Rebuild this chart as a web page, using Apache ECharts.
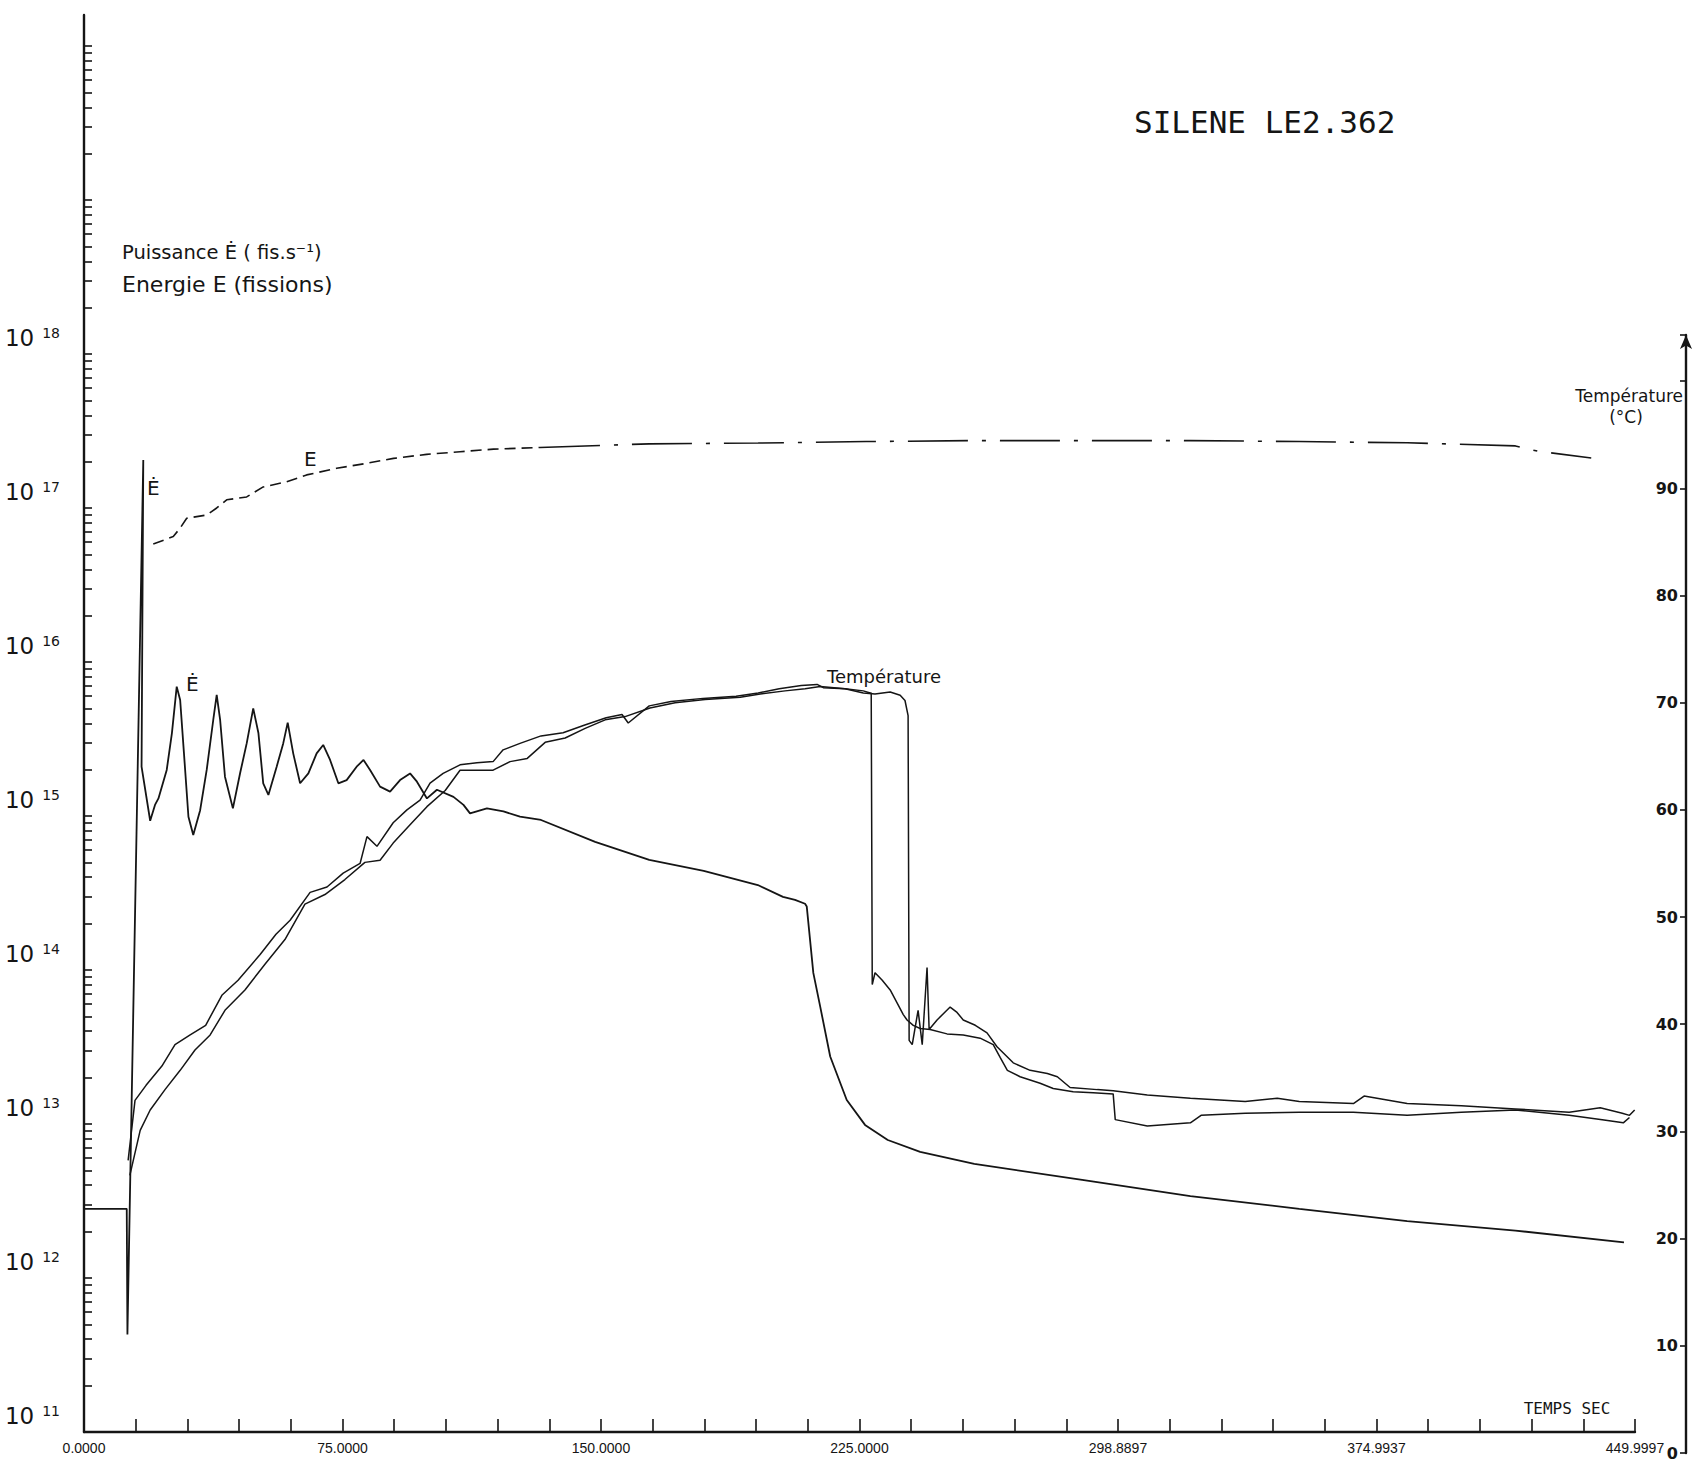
<!DOCTYPE html>
<html><head><meta charset="utf-8">
<script src="https://cdn.jsdelivr.net/npm/echarts@6/dist/echarts.min.js"></script>
<style>html,body{margin:0;padding:0;background:#fff}#c{width:1697px;height:1467px}</style>
</head><body><div id="c"></div>
<script>
// ---- tick labels ----
const timeTickValues = [0, 75, 150, 225, 300, 375, 450];
const timeTickLabels = ['0.0000', '75.0000', '150.0000', '225.0000', '298.8897', '374.9937', '449.9997'];
const decadeExponents = [11, 12, 13, 14, 15, 16, 17, 18];
const tickDecades = [11, 12, 13, 14, 15, 16, 17, 18, 19, 20];
const tempTickValues = [0, 10, 20, 30, 40, 50, 60, 70, 80, 90];

// ---- series values: [time (s), value] ----
const powerEdot = [
  [0, 2.81e12], [12.4, 2.81e12], [12.6, 4.30e11], [17.2, 2.05e17], [16.7, 2.09e15],
  [19.2, 9.31e14], [20.6, 1.18e15], [21.6, 1.30e15], [24.0, 1.99e15], [25.5, 3.44e15],
  [26.9, 6.92e15], [27.9, 5.66e15], [29.0, 2.56e15], [30.3, 9.89e14], [31.7, 7.53e14],
  [33.7, 1.09e15], [35.6, 1.99e15], [37.5, 4.20e15], [38.5, 6.11e15], [39.5, 4.20e15],
  [40.9, 1.80e15], [43.2, 1.12e15], [45.3, 1.90e15], [47.2, 2.96e15], [49.1, 5.00e15],
  [50.6, 3.46e15], [52.0, 1.63e15], [53.5, 1.37e15], [55.9, 2.09e15], [57.8, 2.96e15],
  [59.1, 4.04e15], [60.7, 2.55e15], [62.7, 1.63e15], [65.1, 1.89e15], [67.5, 2.55e15],
  [69.4, 2.89e15], [71.4, 2.31e15], [73.8, 1.63e15], [76.2, 1.71e15], [79.1, 2.09e15],
  [81.1, 2.31e15], [83.0, 1.99e15], [85.9, 1.55e15], [88.8, 1.44e15], [91.7, 1.71e15],
  [94.6, 1.89e15], [96.6, 1.67e15], [99.5, 1.30e15], [102.4, 1.48e15], [107.2, 1.33e15],
  [110.1, 1.18e15], [112.0, 1.04e15], [116.9, 1.12e15], [121.7, 1.07e15], [126.5, 9.89e14],
  [132.6, 9.42e14], [148.3, 6.78e14], [164.0, 5.18e14], [179.8, 4.40e14], [195.5, 3.56e14],
  [202.8, 2.98e14], [206.3, 2.85e14], [209.2, 2.69e14], [209.7, 2.58e14], [211.6, 9.57e13],
  [213.6, 5.78e13], [216.5, 2.74e13], [221.3, 1.43e13], [226.6, 9.86e12], [233.2, 7.87e12],
  [242.6, 6.58e12], [258.3, 5.50e12], [289.6, 4.33e12], [321.0, 3.40e12], [352.6, 2.81e12],
  [383.9, 2.34e12], [415.3, 2.03e12], [446.8, 1.70e12]
];
const energyE = [
  [20.1, 5.84e16], [25.9, 6.52e16], [27.9, 7.41e16], [29.8, 8.57e16], [35.6, 9.01e16],
  [38.5, 1.00e17], [41.4, 1.13e17], [47.2, 1.18e17], [52.0, 1.37e17], [58.8, 1.48e17],
  [64.6, 1.64e17], [73.3, 1.81e17], [82.0, 1.95e17], [89.8, 2.10e17], [99.4, 2.23e17],
  [109.1, 2.32e17], [118.8, 2.41e17], [132.3, 2.47e17], [164.0, 2.61e17], [195.6, 2.64e17],
  [226.9, 2.70e17], [258.3, 2.74e17], [289.6, 2.74e17], [321.0, 2.74e17], [352.6, 2.70e17],
  [383.9, 2.65e17], [415.3, 2.53e17], [421.7, 2.34e17], [437.3, 2.11e17]
];
const temperatureA = [
  [12.8, 27.3], [14.8, 32.9], [18.0, 34.3], [22.6, 36.1], [26.4, 38.1], [30.8, 39.0],
  [35.3, 39.9], [40.0, 42.7], [44.7, 44.1], [51.1, 46.5], [55.7, 48.4], [59.8, 49.7],
  [65.6, 52.3], [70.5, 52.8], [75.2, 54.1], [80.1, 55.0], [82.1, 57.5], [85.0, 56.6],
  [89.7, 58.8], [93.7, 60.0], [97.5, 60.9], [100.4, 62.5], [104.2, 63.4], [109.1, 64.2],
  [114.0, 64.4], [118.7, 64.5], [121.6, 65.6], [126.5, 66.2], [132.6, 66.9], [139.0, 67.2],
  [145.1, 67.9], [151.5, 68.6], [156.1, 68.9], [157.9, 68.1], [164.0, 69.7], [170.3, 70.1],
  [179.6, 70.4], [189.2, 70.6], [195.6, 70.9], [201.7, 71.3], [208.1, 71.6], [212.7, 71.7],
  [214.5, 71.4], [220.8, 71.3], [226.1, 71.1], [228.1, 70.9], [228.4, 70.9], [228.7, 43.7],
  [229.5, 44.8], [231.6, 44.1], [233.9, 43.2], [235.9, 42.0], [237.7, 40.9], [238.8, 40.4],
  [240.6, 39.9], [242.6, 39.6], [245.5, 39.5], [250.4, 39.1], [255.1, 39.0], [260.0, 38.7],
  [263.8, 38.1], [265.8, 36.9], [267.9, 35.7], [271.6, 35.1], [277.4, 34.5], [281.2, 34.0],
  [287.0, 33.7], [292.8, 33.6], [298.6, 33.5], [299.2, 31.1], [308.5, 30.5], [321.0, 30.8],
  [324.1, 31.5], [336.9, 31.7], [352.6, 31.8], [368.3, 31.8], [383.9, 31.5], [399.6, 31.8],
  [415.3, 32.0], [430.9, 31.5], [440.5, 31.1], [446.6, 30.8], [448.4, 31.3]
];
const temperatureB = [
  [13.3, 25.9], [16.3, 30.1], [19.2, 32.0], [23.5, 33.9], [27.9, 35.7], [32.2, 37.6],
  [36.6, 39.0], [40.9, 41.3], [46.7, 43.2], [52.5, 45.6], [58.3, 47.9], [64.1, 51.2],
  [69.9, 52.1], [75.7, 53.5], [81.5, 55.1], [85.9, 55.3], [89.7, 56.9], [94.6, 58.6],
  [99.5, 60.3], [104.8, 61.8], [109.1, 63.7], [118.7, 63.7], [123.6, 64.5], [128.6, 64.8],
  [133.8, 66.3], [139.6, 66.7], [145.4, 67.6], [151.2, 68.4], [157.0, 68.7], [164.2, 69.5],
  [171.5, 70.0], [180.2, 70.3], [190.4, 70.5], [196.2, 70.8], [203.4, 71.1], [209.2, 71.3],
  [213.6, 71.5], [220.8, 71.3], [226.1, 70.9], [229.5, 70.8], [233.9, 71.0], [236.8, 70.7],
  [238.2, 70.2], [239.1, 68.8], [239.4, 38.5], [240.3, 38.1], [242.0, 41.3], [243.2, 38.1],
  [244.6, 45.3], [245.2, 39.5], [247.5, 40.4], [251.3, 41.6], [253.3, 41.1], [255.1, 40.4],
  [258.6, 39.9], [262.0, 39.2], [264.9, 37.9], [269.6, 36.4], [274.5, 35.7], [279.5, 35.4],
  [282.4, 35.1], [286.1, 34.1], [294.0, 33.9], [298.6, 33.8], [308.5, 33.4], [321.0, 33.1],
  [336.9, 32.8], [346.2, 33.1], [352.6, 32.8], [368.3, 32.6], [371.4, 33.3], [383.9, 32.6],
  [399.6, 32.4], [415.3, 32.1], [430.9, 31.8], [439.9, 32.2], [446.3, 31.7], [448.4, 31.5],
  [449.9, 32.0]
];

// ---- chart ----
const ink = '#151515';
const logTickValues = [];
tickDecades.forEach(e => { for (let m = 1; m <= 9; m++) logTickValues.push(m * Math.pow(10, e)); });
const decadeValues = decadeExponents.map(e => Math.pow(10, e));
const energySplit = 17;

const chart = echarts.init(document.getElementById('c'), null, { renderer: 'svg', width: 1697, height: 1467 });
const option = {
  animation: false,
  backgroundColor: '#ffffff',
  grid: [
    { left: 84, top: 15, width: 1551, height: 1417, containLabel: false, outerBoundsMode: 'none' },
    { left: 84, top: 335, width: 1551, height: 1118, containLabel: false, outerBoundsMode: 'none' }
  ],
  xAxis: [
    {
      type: 'value', gridIndex: 0, min: 0, max: 450, interval: 15,
      axisLine: { show: true, onZero: false, lineStyle: { color: ink, width: 2.4 } },
      axisTick: { show: true, inside: true, length: 13, lineStyle: { color: ink, width: 1.6 } },
      axisLabel: {
        color: ink, fontSize: 14, margin: 9,
        fontFamily: '"Liberation Sans", Arial, sans-serif',
        formatter: v => { const i = timeTickValues.indexOf(Math.round(v)); return i >= 0 ? timeTickLabels[i] : ''; }
      },
      splitLine: { show: false }
    },
    { type: 'value', gridIndex: 1, min: 0, max: 450, show: false }
  ],
  yAxis: [
    {
      type: 'log', logBase: 10, gridIndex: 0, min: 9.99e10, max: 1.59e20, position: 'left',
      axisLine: { show: true, onZero: false, lineStyle: { color: ink, width: 2.4 } },
      axisTick: { show: true, inside: true, length: 8, customValues: logTickValues, lineStyle: { color: ink, width: 1.6 } },
      minorTick: { show: false },
      splitLine: { show: false },
      axisLabel: {
        customValues: decadeValues, margin: 24, align: 'right', verticalAlign: 'bottom', padding: [0, 0, 4, 0],
        formatter: v => '{b|10}{s|' + Math.round(Math.log10(v)) + '}',
        rich: {
          b: { fontSize: 23, fontFamily: 'DejaVu Sans', color: ink, lineHeight: 24, padding: [12, 0, 0, 0], verticalAlign: 'bottom' },
          s: { fontSize: 14, fontFamily: 'DejaVu Sans', color: ink, lineHeight: 15, padding: [0, 0, 0, 8], verticalAlign: 'top' }
        }
      }
    },
    {
      type: 'value', gridIndex: 1, min: 0, max: 104.3, interval: 10, position: 'right', offset: 51,
      axisLine: { show: true, onZero: false, symbol: ['none', 'arrow'], symbolSize: [9, 14], lineStyle: { color: ink, width: 2.4 } },
      axisTick: { show: true, inside: true, length: 6, lineStyle: { color: ink, width: 1.6 } },
      splitLine: { show: false },
      axisLabel: {
        inside: true, margin: 8, color: ink, fontSize: 16, fontWeight: 'bold', fontFamily: 'DejaVu Sans',
        formatter: v => (tempTickValues.indexOf(Math.round(v)) >= 0 ? String(Math.round(v)) : '')
      }
    }
  ],
  series: [
    { name: 'Puissance', type: 'line', xAxisIndex: 0, yAxisIndex: 0, data: powerEdot, symbol: 'none', silent: true,
      lineStyle: { color: ink, width: 1.8 } },
    { name: 'Energie', type: 'line', xAxisIndex: 0, yAxisIndex: 0, data: energyE.slice(0, energySplit + 1), symbol: 'none', silent: true,
      lineStyle: { color: ink, width: 1.6, type: [11, 6] } },
    { name: 'Energie2', type: 'line', xAxisIndex: 0, yAxisIndex: 0, data: energyE.slice(energySplit), symbol: 'none', silent: true,
      lineStyle: { color: ink, width: 1.6, type: [60, 14, 4, 14] } },
    { name: 'TempA', type: 'line', xAxisIndex: 1, yAxisIndex: 1, data: temperatureA, symbol: 'none', silent: true,
      lineStyle: { color: ink, width: 1.5 } },
    { name: 'TempB', type: 'line', xAxisIndex: 1, yAxisIndex: 1, data: temperatureB, symbol: 'none', silent: true,
      lineStyle: { color: ink, width: 1.5 } }
  ],
  graphic: [
    { type: 'text', x: 1134, y: 122, style: { text: 'SILENE LE2.362', font: '31px "DejaVu Sans Mono"', fill: ink, textAlign: 'left', textVerticalAlign: 'middle' } },
    { type: 'text', x: 122, y: 252, style: { text: 'Puissance Ė ( fis.s⁻¹)', font: '19.5px "DejaVu Sans"', fill: ink, textVerticalAlign: 'middle' } },
    { type: 'text', x: 122, y: 284, style: { text: 'Energie E (fissions)', font: '22px "DejaVu Sans"', fill: ink, textVerticalAlign: 'middle' } },
    { type: 'text', x: 147, y: 488, style: { text: 'Ė', font: '20px "DejaVu Sans"', fill: ink, textVerticalAlign: 'middle' } },
    { type: 'text', x: 186, y: 684, style: { text: 'Ė', font: '20px "DejaVu Sans"', fill: ink, textVerticalAlign: 'middle' } },
    { type: 'text', x: 304, y: 459, style: { text: 'E', font: '20px "DejaVu Sans"', fill: ink, textVerticalAlign: 'middle' } },
    { type: 'text', x: 884, y: 676, style: { text: 'Température', font: '18px "DejaVu Sans"', fill: ink, textAlign: 'center', textVerticalAlign: 'middle' } },
    { type: 'text', x: 1683, y: 396, style: { text: 'Température', font: '17px "DejaVu Sans"', fill: ink, textAlign: 'right', textVerticalAlign: 'middle' } },
    { type: 'text', x: 1626, y: 417, style: { text: '(°C)', font: '17px "DejaVu Sans"', fill: ink, textAlign: 'center', textVerticalAlign: 'middle' } },
    { type: 'text', x: 1567, y: 1408, style: { text: 'TEMPS SEC', font: '16px "DejaVu Sans Mono"', fill: ink, textAlign: 'center', textVerticalAlign: 'middle' } }
  ]
};
chart.setOption(option);
</script>
</body></html>
